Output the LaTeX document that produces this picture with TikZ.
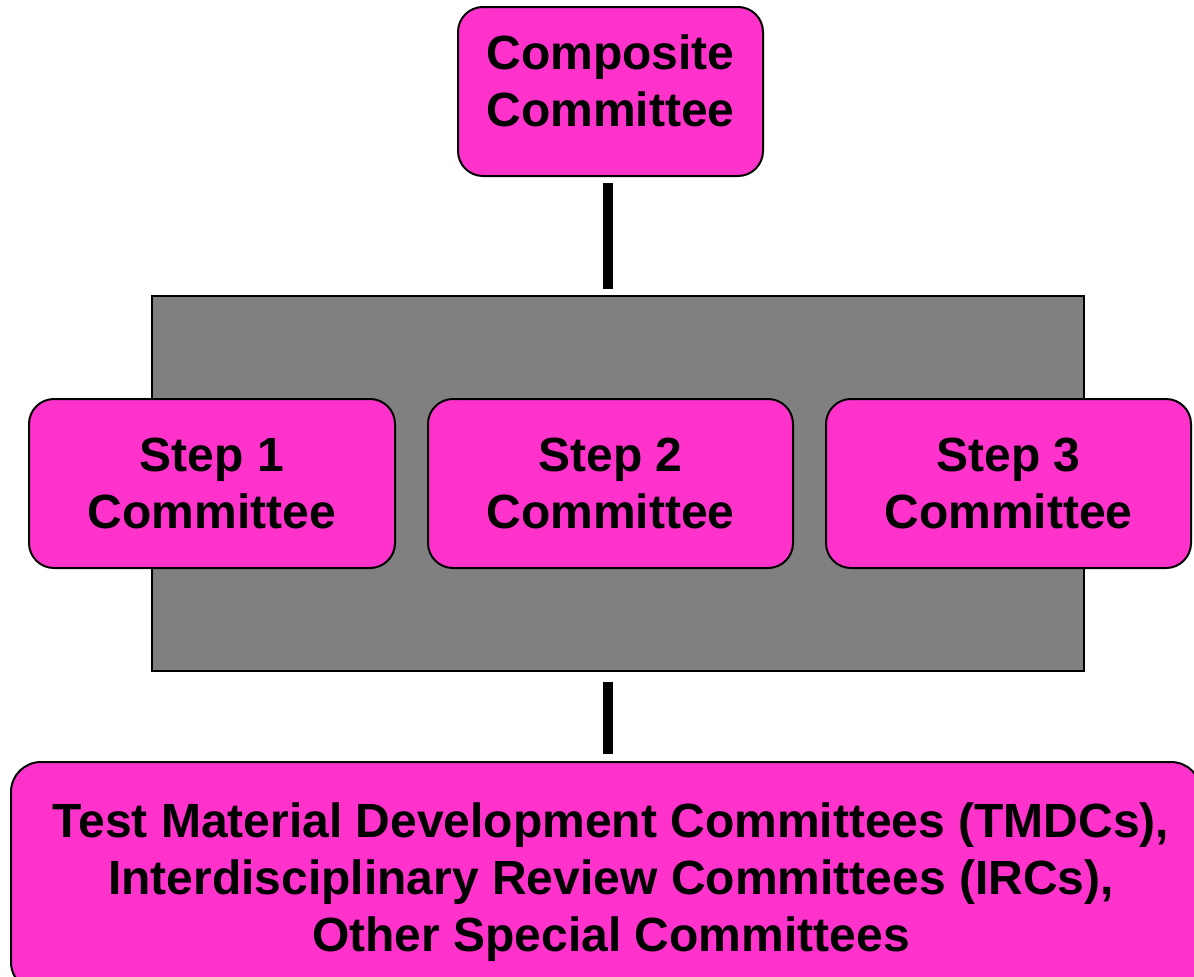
\documentclass[tikz,border=0pt]{standalone}
\usepackage{fontspec}
\setmainfont{Liberation Sans}
\definecolor{pinkfill}{HTML}{FF33CC}
\definecolor{grayfill}{HTML}{808080}
\begin{document}
\begin{tikzpicture}[x=1pt,y=-1pt,
  pinkbox/.style={draw=black,line width=2pt,fill=pinkfill,rounded corners=25pt,
    inner sep=0pt,align=center,font=\fontsize{48}{57}\selectfont\bfseries},
  conn/.style={draw=black,line width=10pt}]
\useasboundingbox (0,0) rectangle (1194,977);
\node[draw=black,line width=2pt,fill=grayfill,minimum width=932pt,minimum height=375pt,inner sep=0pt] (gray) at (618,483.5) {};
\node[pinkbox,minimum width=305pt,minimum height=169pt] (comp) at (610.5,91.5) {\raisebox{5pt}[\height][\depth]{\begin{tabular}{@{}c@{}}Composite\\Committee\end{tabular}}};
\node[pinkbox,minimum width=366pt,minimum height=169pt] (s1) at (212,483.5) {Step 1\\Committee};
\node[pinkbox,minimum width=365pt,minimum height=169pt] (s2) at (610.5,483.5) {Step 2\\Committee};
\node[pinkbox,minimum width=365pt,minimum height=169pt] (s3) at (1008.5,483.5) {Step 3\\Committee};
\node[pinkbox,rounded corners=30pt,minimum width=1190pt,minimum height=230pt] (tmdc) at (606,877) {\hspace*{10pt}\raisebox{-6pt}[\height][\depth]{\begin{tabular}{@{}c@{}}Test Material Development Committees (TMDCs),\\Interdisciplinary Review Committees (IRCs),\\Other Special Committees\end{tabular}}};
\draw[conn] ([xshift=-2.5pt,yshift=-6pt]comp.south) -- ([xshift=-2.5pt,yshift=6pt]comp.south |- gray.north);
\draw[conn] ([xshift=-10pt,yshift=-10pt]gray.south) -- ([xshift=-10pt,yshift=7pt]gray.south |- tmdc.north);
\end{tikzpicture}
\end{document}
